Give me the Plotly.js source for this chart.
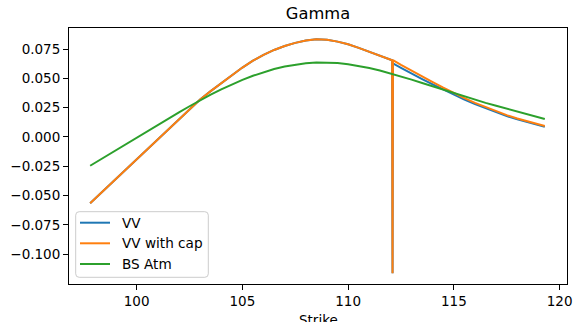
<!DOCTYPE html>
<html>
<head>
<meta charset="utf-8">
<script src="https://cdn.plot.ly/plotly-3.0.1.min.js"></script>
<style>
  html, body { margin: 0; padding: 0; background: #ffffff; }
  #chart { width: 574px; height: 322px; }
</style>
</head>
<body>
<div id="chart"></div>
<script>
// Strike grid shared by the three gamma curves
const strike = [
  97.8, 98.5, 99.0, 99.5, 100.0, 100.5, 101.0, 101.5, 102.0, 102.5,
  103.0, 103.5, 104.0, 104.5, 105.0, 105.5, 106.0, 106.5, 107.0, 107.5,
  108.0, 108.5, 109.0, 109.5, 110.0, 110.5, 111.0, 111.5, 112.0,
  112.08, 112.1, 112.12,
  112.5, 113.0, 113.5, 114.0, 114.5, 115.0, 115.5, 116.0, 116.5,
  117.0, 117.5, 118.0, 118.5, 119.0, 119.3
];

// Vanna-volga gamma
const gammaVV = [
  -0.0565, -0.0445, -0.0360, -0.0274, -0.0189, -0.0103, -0.0018, 0.0068, 0.0153, 0.0238,
  0.0320, 0.0391, 0.0459, 0.0526, 0.0592, 0.0650, 0.0700, 0.0742, 0.0776, 0.0802,
  0.0823, 0.0833, 0.0828, 0.0813, 0.0790, 0.0760, 0.0727, 0.0692, 0.0658,
  0.0654, -0.1162, 0.0627,
  0.0590, 0.0540, 0.0494, 0.0448, 0.0404, 0.0360, 0.0319, 0.0280, 0.0244,
  0.0209, 0.0178, 0.0150, 0.0125, 0.0102, 0.0086
];

// Vanna-volga gamma with the cap applied
const gammaVVCap = [
  -0.0565, -0.0445, -0.0360, -0.0274, -0.0189, -0.0103, -0.0018, 0.0068, 0.0153, 0.0238,
  0.0320, 0.0391, 0.0459, 0.0526, 0.0592, 0.0650, 0.0700, 0.0742, 0.0776, 0.0802,
  0.0823, 0.0833, 0.0828, 0.0813, 0.0790, 0.0760, 0.0727, 0.0692, 0.0658,
  0.0654, -0.1162, 0.0655,
  0.0615, 0.0564, 0.0515, 0.0467, 0.0420, 0.0374, 0.0331, 0.0291, 0.0254,
  0.0218, 0.0186, 0.0158, 0.0133, 0.0110, 0.0094
];

// Black-Scholes gamma at the ATM vol
const gammaBSAtm = [
  -0.0245, -0.0168, -0.0113, -0.0058, -0.0004, 0.0050, 0.0104, 0.0158, 0.0210, 0.0262,
  0.0313, 0.0361, 0.0406, 0.0448, 0.0487, 0.0522, 0.0553, 0.0579, 0.0600, 0.0617,
  0.0629, 0.0635, 0.0635, 0.0630, 0.0620, 0.0606, 0.0588, 0.0566, 0.0542,
  0.0538, 0.0537, 0.0536,
  0.0516, 0.0489, 0.0460, 0.0431, 0.0402, 0.0373, 0.0345, 0.0318, 0.0291,
  0.0266, 0.0241, 0.0218, 0.0193, 0.0168, 0.0154
];

const seriesNames = ['VV', 'VV with cap', 'BS Atm'];

const xTickVals = [100, 105, 110, 115, 120];
const yTickVals = [-0.100, -0.075, -0.050, -0.025, 0.000, 0.025, 0.050, 0.075];
const yTickText = ['\u22120.100', '\u22120.075', '\u22120.050', '\u22120.025', '0.000', '0.025', '0.050', '0.075'];

const FONT = 'DejaVu Sans, Verdana, sans-serif';
const colors = ['#1f77b4', '#ff7f0e', '#2ca02c'];
const seriesValues = [gammaVV, gammaVVCap, gammaBSAtm];

const traces = seriesValues.map((vals, i) => ({
  x: strike,
  y: vals,
  type: 'scatter',
  mode: 'lines',
  name: seriesNames[i],
  line: { color: colors[i], width: 2 },
  showlegend: false
}));

// Plot area in pixels, used to place the legend and axis label in paper units
const W = 574, H = 322;
const M = { l: 69, r: 7, t: 28, b: 38 };
const plotW = W - M.l - M.r;
const plotH = H - M.t - M.b;
const px = (x) => (x - M.l) / plotW;
const py = (y) => (H - M.b - y) / plotH;

// Legend: rounded, semi-transparent box in the lower-left corner
const box = { x0: 75.7, x1: 208.3, y0: 211.7, y1: 277.3, r: 3.5 };
function roundedRectPath(b) {
  const X0 = px(b.x0), X1 = px(b.x1), Y0 = py(b.y1), Y1 = py(b.y0);
  const rx = b.r / plotW, ry = b.r / plotH;
  return 'M' + (X0 + rx) + ',' + Y0 +
    ' L' + (X1 - rx) + ',' + Y0 + ' Q' + X1 + ',' + Y0 + ' ' + X1 + ',' + (Y0 + ry) +
    ' L' + X1 + ',' + (Y1 - ry) + ' Q' + X1 + ',' + Y1 + ' ' + (X1 - rx) + ',' + Y1 +
    ' L' + (X0 + rx) + ',' + Y1 + ' Q' + X0 + ',' + Y1 + ' ' + X0 + ',' + (Y1 - ry) +
    ' L' + X0 + ',' + (Y0 + ry) + ' Q' + X0 + ',' + Y0 + ' ' + (X0 + rx) + ',' + Y0 + ' Z';
}
const entryY = [222.7, 243.3, 264.0];

const shapes = [{
  type: 'path', xref: 'paper', yref: 'paper', layer: 'above',
  path: roundedRectPath(box),
  fillcolor: 'rgba(255,255,255,0.8)',
  line: { color: '#cccccc', width: 1 }
}];
const annotations = [];
seriesNames.forEach((name, i) => {
  shapes.push({
    type: 'line', xref: 'paper', yref: 'paper', layer: 'above',
    x0: px(80), x1: px(110), y0: py(entryY[i]), y1: py(entryY[i]),
    line: { color: colors[i], width: 2 }
  });
  annotations.push({
    xref: 'paper', yref: 'paper', x: px(119.5), y: py(entryY[i]),
    xanchor: 'left', yanchor: 'middle', showarrow: false,
    text: name, font: { family: FONT, size: 13.6, color: '#000000' }
  });
});

// x-axis label, sitting low under the tick labels
annotations.push({
  xref: 'paper', yref: 'paper', x: 0.5, y: py(319.5),
  xanchor: 'center', yanchor: 'middle', showarrow: false,
  text: 'Strike', font: { family: FONT, size: 13.5, color: '#000000' }
});

const axisCommon = {
  showline: true,
  linecolor: '#000000',
  linewidth: 1,
  mirror: true,
  ticks: 'outside',
  ticklen: 5,
  tickwidth: 1,
  tickcolor: '#000000',
  showgrid: false,
  zeroline: false,
  tickfont: { family: FONT, size: 13.5, color: '#000000' }
};

const layout = {
  width: W,
  height: H,
  margin: M,
  paper_bgcolor: '#ffffff',
  plot_bgcolor: '#ffffff',
  font: { family: FONT, color: '#000000' },
  showlegend: false,
  title: {
    text: 'Gamma',
    font: { family: FONT, size: 16.3, color: '#000000' },
    x: 0.5, xref: 'paper', xanchor: 'center',
    y: 0.958, yref: 'container', yanchor: 'middle'
  },
  xaxis: Object.assign({}, axisCommon, {
    range: [96.8, 120.35],
    tickvals: xTickVals
  }),
  yaxis: Object.assign({}, axisCommon, {
    range: [-0.1253, 0.0929],
    tickvals: yTickVals,
    ticktext: yTickText
  }),
  shapes: shapes,
  annotations: annotations
};

Plotly.newPlot('chart', traces, layout, { displayModeBar: false, staticPlot: true });
</script>
</body>
</html>
